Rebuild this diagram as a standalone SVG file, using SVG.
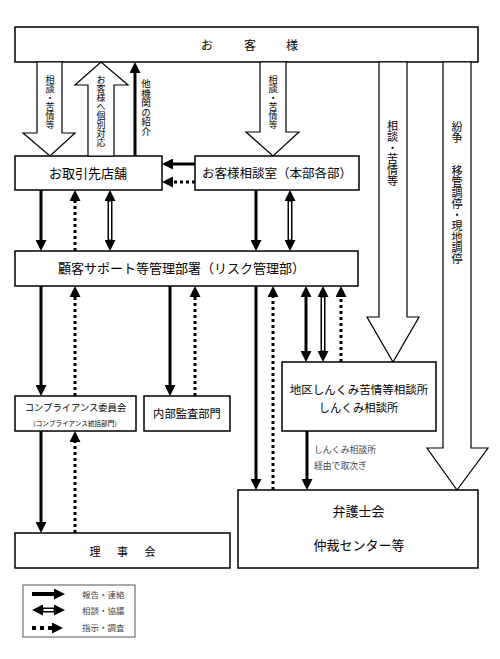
<svg xmlns="http://www.w3.org/2000/svg" width="500" height="659" viewBox="0 0 500 659">
<defs>
<style>
text{font-family:"Noto Sans CJK JP","Noto Sans",sans-serif;fill:#000}
.box{fill:#fff;stroke:#000;stroke-width:1.5}
.big{fill:#fff;stroke:#000;stroke-width:1.2;stroke-linejoin:miter}
.s{fill:none;stroke:#000;stroke-width:3}
.d{fill:none;stroke:#000;stroke-width:3;stroke-dasharray:3 3}
.dbo{fill:none;stroke:#000;stroke-width:5}
.dbi{fill:none;stroke:#fff;stroke-width:2}
.v{writing-mode:vertical-rl}
.m{text-anchor:middle}
.gray{fill:#444}
</style>
<marker id="ah" markerUnits="userSpaceOnUse" markerWidth="11" markerHeight="11" refX="1" refY="5.5" orient="auto-start-reverse">
<path d="M0,0 L11,5.5 L0,11 z" fill="#000"/>
</marker>
</defs>
<rect width="500" height="659" fill="#fff"/>

<g id="okyakusama">
<rect class="box" x="15" y="27" width="463" height="35"/>
<text x="207 250 292" y="49.5" font-size="12" class="m">お客様</text>
</g>

<g id="torihiki">
<rect class="box" x="15" y="156" width="147" height="34"/>
<text x="88" y="177.5" font-size="13" class="m">お取引先店舗</text>
</g>

<g id="soudanshitsu">
<rect class="box" x="195" y="156" width="164" height="34"/>
<text x="277" y="177.5" font-size="12.5" class="m">お客様相談室（本部各部）</text>
</g>

<g id="kokyaku">
<rect class="box" x="15" y="251" width="343" height="35"/>
<text x="58" y="272.5" font-size="13">顧客サポート等管理部署（リスク管理部）</text>
</g>

<g id="compliance">
<rect class="box" x="15" y="396" width="121" height="35"/>
<text x="75.5" y="410.5" font-size="9.3" class="m">コンプライアンス委員会</text>
<text x="75" y="425.5" font-size="6.6" class="m">（コンプライアンス統括部門）</text>
</g>

<g id="naibu">
<rect class="box" x="144" y="396" width="86" height="35"/>
<text x="187" y="418" font-size="11.3" class="m">内部監査部門</text>
</g>

<g id="rijikai">
<rect class="box" x="15" y="533" width="215" height="35"/>
<text x="95 122.5 150" y="556" font-size="11" class="m">理事会</text>
</g>

<g id="chiku">
<rect class="box" x="282" y="362" width="154" height="69"/>
<text x="359" y="393.5" font-size="11.5" class="m">地区しんくみ苦情等相談所</text>
<text x="358.5" y="411.5" font-size="11.3" class="m">しんくみ相談所</text>
</g>

<g id="bengoshikai">
<rect class="box" x="238" y="490" width="240" height="78"/>
<text x="358.5" y="515.5" font-size="13" class="m">弁護士会</text>
<text x="359" y="549.5" font-size="13" class="m">仲裁センター等</text>
</g>

<g id="big-arrows">
<polygon class="big" points="37,62 62,62 62,133 75,133 50,156 23,133 37,133"/>
<text class="v" x="50" y="75" font-size="9">相談・苦情等</text>
<polygon class="big" points="88,156 88,85 75,85 101,62 128,85 114,85 114,156"/>
<text class="v" x="101" y="75.5" font-size="9">お客様へ個別対応</text>
<polygon class="big" points="260,62 286,62 286,132 299,132 273,156 246,132 260,132"/>
<text class="v" x="273" y="75" font-size="9">相談・苦情等</text>
<polygon class="big" points="379,62 407,62 407,317 419,317 393,362 367,317 379,317"/>
<text class="v" x="392.5" y="120.5" font-size="11">相談・苦情等</text>
<polygon class="big" points="443,62 471,62 471,448 488,448 457,490 427,448 443,448"/>
<text class="v" x="457" y="121.5" font-size="11">紛争　　移管調停・現地調停</text>
</g>

<g id="connectors">
<path class="s" d="M195,164 H172" marker-end="url(#ah)"/>
<path class="d" d="M195,182 H172" marker-end="url(#ah)"/>
<path class="s" d="M135,156 V72" marker-end="url(#ah)"/>
<text class="v" x="146" y="79" font-size="9.5">他機関の紹介</text>

<path class="s" d="M41,190 V241" marker-end="url(#ah)"/>
<path class="d" d="M75,251 V200" marker-end="url(#ah)"/>
<path class="dbo" d="M110,200 V241" marker-start="url(#ah)" marker-end="url(#ah)"/>
<path class="dbi" d="M110,201.5 V239.5"/>
<path class="s" d="M256,190 V241" marker-end="url(#ah)"/>
<path class="dbo" d="M290,200 V241" marker-start="url(#ah)" marker-end="url(#ah)"/>
<path class="dbi" d="M290,201.5 V239.5"/>

<path class="s" d="M41,286 V386" marker-end="url(#ah)"/>
<path class="d" d="M75,396 V296" marker-end="url(#ah)"/>
<path class="s" d="M170,286 V386" marker-end="url(#ah)"/>
<path class="d" d="M195,396 V296" marker-end="url(#ah)"/>
<path class="s" d="M256,286 V480" marker-end="url(#ah)"/>
<path class="d" d="M273,490 V296" marker-end="url(#ah)"/>
<path class="s" d="M306,296 V352" marker-start="url(#ah)" marker-end="url(#ah)"/>
<path class="dbo" d="M323,296 V352" marker-start="url(#ah)" marker-end="url(#ah)"/>
<path class="dbi" d="M323,297.5 V350.5"/>
<path class="d" d="M341,362 V296" marker-end="url(#ah)"/>

<path class="s" d="M307,431 V480" marker-end="url(#ah)"/>
<text x="314" y="452.5" font-size="8.8" class="gray">しんくみ相談所</text>
<text x="314" y="469" font-size="8.8" class="gray">経由で取次ぎ</text>

<path class="s" d="M41,431 V523" marker-end="url(#ah)"/>
<path class="d" d="M75,533 V441" marker-end="url(#ah)"/>
</g>

<g id="legend">
<rect x="23" y="585" width="112" height="52" fill="#fff" stroke="#555" stroke-width="1"/>
<path d="M32,594 H55" stroke="#000" stroke-width="4" fill="none" marker-end="url(#ah)"/>
<path class="dbo" d="M42,610 H55" marker-start="url(#ah)" marker-end="url(#ah)"/>
<path class="dbi" d="M43.5,610 H53.5"/>
<path d="M32,628 H53" stroke="#000" stroke-width="4" stroke-dasharray="4 4" fill="none" marker-end="url(#ah)"/>
<text x="82" y="597.5" font-size="8.5" class="gray">報告・連絡</text>
<text x="82" y="613.5" font-size="8.5" class="gray">相談・協議</text>
<text x="82" y="631" font-size="8.5" class="gray">指示・調査</text>
</g>
</svg>
